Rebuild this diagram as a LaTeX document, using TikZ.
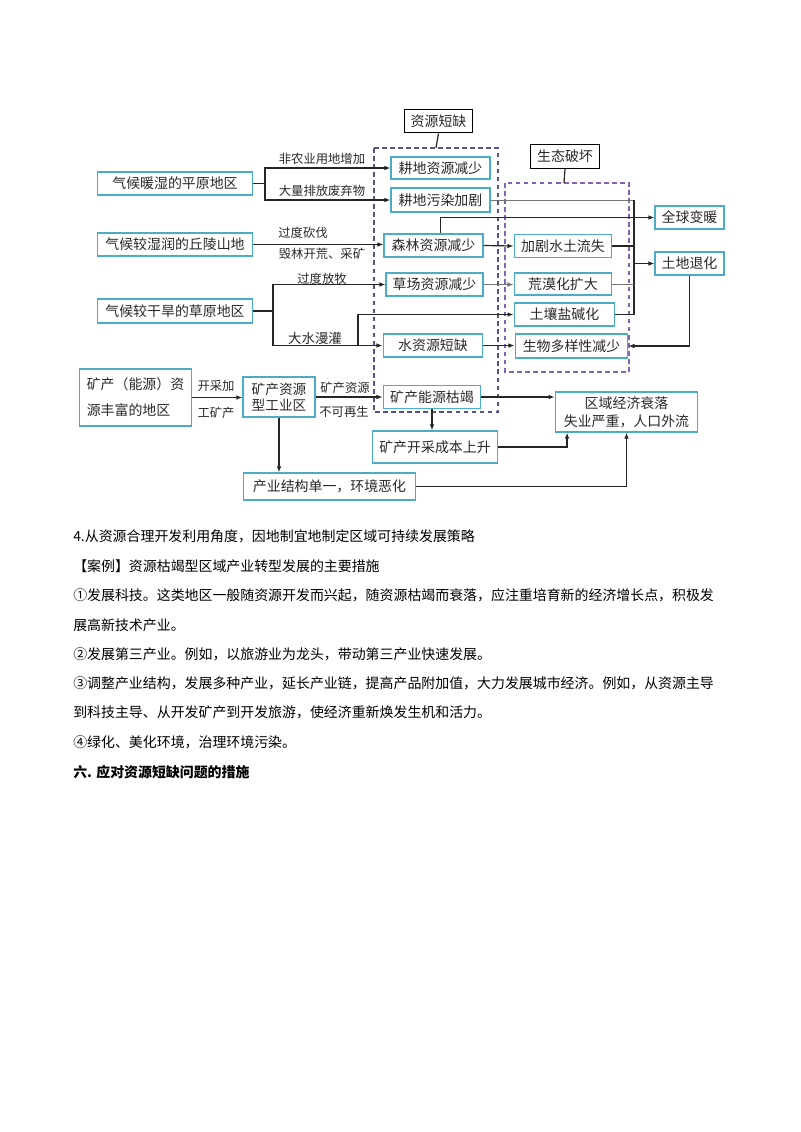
\documentclass[tikz,border=0pt]{standalone}
\usepackage{fontspec}
\setmainfont{Noto Sans CJK SC}
\usepackage{tikz}
\usetikzlibrary{positioning}
\usetikzlibrary{arrows,arrows.meta}

\definecolor{boxblue}{RGB}{75,172,198}
\definecolor{dashblue}{RGB}{80,86,140}
\definecolor{dashpurple}{RGB}{130,98,180}
\definecolor{inkgray}{RGB}{40,40,40}

\begin{document}
\begin{tikzpicture}[x=0.02625cm, y=-0.02625cm, >={Latex[length=4.5pt,width=3.5pt]},
    cbox/.style={draw=boxblue, line width=1pt, text=inkgray, inner sep=2pt, minimum height=17.2pt, font=\fontsize{10.4}{12}\selectfont},
    hbox/.style={draw=black, line width=0.9pt, text=inkgray, inner sep=2pt, minimum height=17.6pt, font=\fontsize{10.4}{12}\selectfont},
    lbl/.style={inner sep=0pt, text=inkgray, font=\fontsize{9.2}{10}\selectfont},
    link/.style={line width=0.9pt, draw=black!85},
    thinlink/.style={line width=0.7pt, draw=black!55},
    frame/.style={line width=0.8pt, dash pattern=on 3.5pt off 2.5pt},
    para/.style={anchor=west, inner sep=0pt, font=\fontsize{10.4}{12}\selectfont}]

    \useasboundingbox (0,0) rectangle (800,1132);

    % gestrichelte Rahmen
    \draw[frame, dashblue] (374,148) rectangle (498,412);
    \draw[frame, dashpurple] (505,183) rectangle (629,372);
    \coordinate (bluetop) at (436,148);
    \coordinate (purpletop) at (564,183);

    \node[hbox, minimum width=51.3pt] (short) at (438.5,121) {资源短缺};
    \node[hbox, minimum width=52.1pt] (eco) at (565,156.5) {生态破坏};

    % Regionen
    \node[cbox, minimum width=116.1pt] (plain) at (175,183.5) {气候暖湿的平原地区};
    \node[cbox, minimum width=116.1pt] (hill) at (175,244.5) {气候较湿润的丘陵山地};
    \node[cbox, minimum width=116.1pt, minimum height=17.9pt] (grass) at (175,311) {气候较干旱的草原地区};
    \node[cbox, minimum width=84.1pt, minimum height=42.4pt, align=left, font=\fontsize{10.4}{19.5}\selectfont] (mine) at (135.5,397.5) {矿产（能源）资\\源丰富的地区};
    \node[cbox, minimum width=53.6pt, minimum height=29.8pt, align=center, font=\fontsize{10.2}{12.6}\selectfont] (ind) at (279,397) {矿产资源\\型工业区};

    % Ressourcen
    \node[cbox, minimum width=73.7pt, minimum height=16.4pt] (plough) at (440.5,168) {耕地资源减少};
    \node[cbox, minimum width=73.7pt, minimum height=17.9pt] (pollu) at (440.5,200) {耕地污染加剧};
    \node[cbox, minimum width=73.7pt] (forest) at (433.5,245.5) {森林资源减少};
    \node[cbox, minimum width=72.2pt] (meadow) at (434.5,284.5) {草场资源减少};
    \node[cbox, minimum width=74.4pt] (water) at (433,345.5) {水资源短缺};
    \node[cbox, minimum width=72.9pt] (energy) at (432,397) {矿产能源枯竭};
    \node[cbox, minimum width=93.7pt, minimum height=23.8pt] (cost) at (435,447) {矿产开采成本上升};

    % Oekologie
    \node[cbox, minimum width=72.9pt] (erosion) at (563,246) {加剧水土流失};
    \node[cbox, minimum width=72.9pt, minimum height=16.4pt] (desert) at (563,284) {荒漠化扩大};
    \node[cbox, minimum width=75.1pt] (salt) at (564.5,314.5) {土壤盐碱化};
    \node[cbox, minimum width=84.1pt, minimum height=17.9pt] (bio) at (571.5,346) {生物多样性减少};
    \node[cbox, minimum width=51.3pt] (warm) at (689.5,217.5) {全球变暖};
    \node[cbox, minimum width=51.3pt] (degr) at (689.5,263.5) {土地退化};

    \node[cbox, minimum width=106.4pt, minimum height=29.8pt, align=center, font=\fontsize{10.4}{13.4}\selectfont] (econ) at (626.5,412) {区域经济衰落\\失业严重，人口外流};
    \node[cbox, minimum width=128.7pt, minimum height=20.1pt] (struct) at (329.5,486.5) {产业结构单一，环境恶化};

    % Verbindungen
    \draw[link] (short.south) -- (bluetop);
    \draw[link] (eco.south) -- (purpletop);

    \coordinate (fork1) at (265,183.5);
    \draw[link] (plain.east) -- (fork1);
    \draw[link, ->] (fork1) |- (plough.west);
    \draw[link, ->] (fork1) |- (pollu.west);
    \node[lbl] (l1) at (322,159) {非农业用地增加};
    \node[lbl] (l2) at (322,191) {大量排放废弃物};

    \draw[link, ->] (hill.east) -- (hill.east -| forest.west);
    \node[lbl] (l3) at (303,233) {过度砍伐};
    \node[lbl] (l4) at (322,254) {毁林开荒、采矿};

    \coordinate (fork2) at (273,311);
    \coordinate (fork3) at (358,345.5);
    \draw[link] (grass.east) -- (fork2);
    \draw[link, ->] (fork2) |- (meadow.west);
    \draw[link, ->] (fork2) |- (water.west);
    \draw[link, ->] (fork3) |- (salt.west);
    \node[lbl] (l5) at (322,279) {过度放牧};
    \node[lbl, font=\fontsize{10}{11}\selectfont] (l6) at (315,338) {大水漫灌};

    \draw[link, ->] (forest.east) -- (erosion.west);
    \draw[thinlink, ->] (meadow.east) -- (meadow.east -| desert.west);
    \draw[link, ->] (water.east) -- (water.east -| bio.west);
    \draw[link, ->] ([xshift=1.8mm]forest.north) |- (warm.west);

    \coordinate (coltop) at (634,200);
    \coordinate (colbot) at (634,314.5);
    \draw[thinlink] (pollu.east) -- (coltop);
    \draw[link] (coltop) -- (colbot);
    \draw[link] (erosion.east) -- (erosion.east -| coltop);
    \draw[thinlink] (desert.east) -- (desert.east -| coltop);
    \draw[link] (salt.east) -- (salt.east -| coltop);
    \draw[link, ->] (coltop |- degr.west) -- (degr.west);
    \draw[link, ->] (degr.south) |- (bio.east);

    \draw[link, ->] (mine.east) -- (mine.east -| ind.west);
    \node[lbl] (l7) at (216,386) {开采加};
    \node[lbl] (l8) at (216,413) {工矿产};
    \draw[link, ->] (ind.east) -- (ind.east -| energy.west);
    \node[lbl] (l9) at (345,388) {矿产资源};
    \node[lbl] (l10) at (344,412) {不可再生};
    \draw[link, ->] (ind.south) -- (ind.south |- struct.north);
    \draw[link, ->] (energy.south) -- (energy.south |- cost.north);
    \draw[link, ->] (energy.east) -- (energy.east -| econ.west);
    \draw[link, ->] (cost.east) -| ([xshift=-1.56cm]econ.south);
    \draw[link, ->] (struct.east) -| (econ.south);

    % Text
    \node[para] (t1) at (73,536) {4.从资源合理开发利用角度，因地制宜地制定区域可持续发展策略};
    \node[para] (t2) at (73,566) {【案例】资源枯竭型区域产业转型发展的主要措施};
    \node[para] (t3) at (73,595) {①发展科技。这类地区一般随资源开发而兴起，随资源枯竭而衰落，应注重培育新的经济增长点，积极发};
    \node[para] (t4) at (73,625) {展高新技术产业。};
    \node[para] (t5) at (73,654) {②发展第三产业。例如，以旅游业为龙头，带动第三产业快速发展。};
    \node[para] (t6) at (73,683) {③调整产业结构，发展多种产业，延长产业链，提高产品附加值，大力发展城市经济。例如，从资源主导};
    \node[para] (t7) at (73,712) {到科技主导、从开发矿产到开发旅游，使经济重新焕发生机和活力。};
    \node[para] (t8) at (73,742) {④绿化、美化环境，治理环境污染。};
    \node[para, font=\fontsize{10.4}{12}\bfseries] (t9) at (73,772) {六. 应对资源短缺问题的措施};
\end{tikzpicture}
\end{document}
